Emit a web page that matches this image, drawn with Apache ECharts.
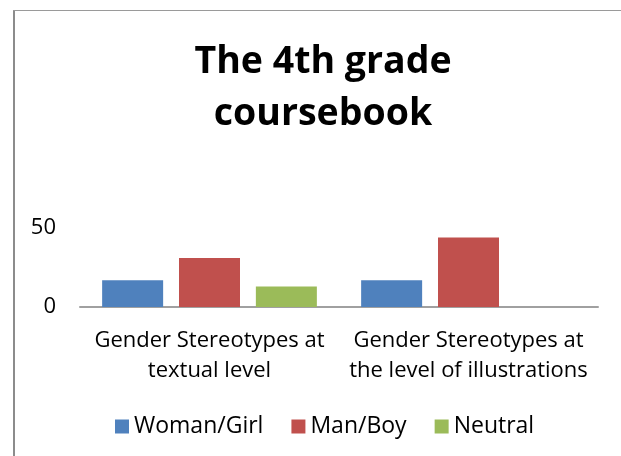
<!DOCTYPE html>
<html>
<head>
<meta charset="utf-8">
<script src="https://cdn.jsdelivr.net/npm/echarts@6/dist/echarts.min.js"></script>
<style>
  html, body { margin: 0; padding: 0; background: #fff; }
  #chartDom { width: 621px; height: 456px; }
</style>
</head>
<body>
<div id="chartDom"></div>
<script>
// categories (line breaks as in the picture)
const categories = [
  "Gender Stereotypes at\ntextual level",
  "Gender Stereotypes at\nthe level of illustrations"
];
const womanGirl = [17, 17];
const manBoy = [31, 44];
const neutral = [13, 0];

const font = "'Open Sans', 'Noto Sans', sans-serif";

let chart = echarts.init(document.getElementById("chartDom"));
chart.setOption({
  animation: false,
  backgroundColor: "#fff",
  textStyle: { fontFamily: font },
  title: {
    text: "The 4th grade\ncoursebook",
    left: 318,
    top: 31,
    textAlign: "center",
    textStyle: {
      fontFamily: font,
      fontSize: 37.5,
      fontWeight: "bold",
      color: "#000",
      lineHeight: 52
    }
  },
  // chart border (left + top)
  graphic: [
    { type: "line", shape: { x1: 14, y1: 10, x2: 14, y2: 456 }, style: { stroke: "#8c8c8c", lineWidth: 2 } },
    { type: "line", shape: { x1: 13, y1: 10.5, x2: 621, y2: 10.5 }, style: { stroke: "#9a9a9a", lineWidth: 1 } }
  ],
  legend: {
    top: 410,
    left: 110,
    itemWidth: 14,
    itemHeight: 14,
    itemGap: 28,
    icon: "rect",
    textStyle: { fontFamily: font, fontSize: 23, color: "#000" },
    data: ["Woman/Girl", "Man/Boy", "Neutral"]
  },
  grid: {
    left: 80,
    right: 23,
    top: 228,
    bottom: 149,
    containLabel: false
  },
  xAxis: {
    type: "category",
    data: categories,
    axisLine: { lineStyle: { color: "#a0a0a0", width: 2 } },
    axisTick: { show: false },
    axisLabel: {
      fontFamily: font,
      fontSize: 22,
      color: "#000",
      lineHeight: 30,
      margin: 19,
      interval: 0
    }
  },
  yAxis: {
    type: "value",
    min: 0,
    max: 50,
    interval: 50,
    splitLine: { show: false },
    axisLine: { show: false },
    axisTick: { show: false },
    axisLabel: { fontFamily: font, fontSize: 22, color: "#000", margin: 24 }
  },
  series: [
    { name: "Woman/Girl", type: "bar", data: womanGirl, barWidth: 61, barGap: "26%",
      itemStyle: { color: "#4f81bd" } },
    { name: "Man/Boy", type: "bar", data: manBoy, barWidth: 61, barGap: "26%",
      itemStyle: { color: "#c0504d" } },
    { name: "Neutral", type: "bar", data: neutral, barWidth: 61, barGap: "26%",
      itemStyle: { color: "#9bbb59" } }
  ]
});
</script>
</body>
</html>
